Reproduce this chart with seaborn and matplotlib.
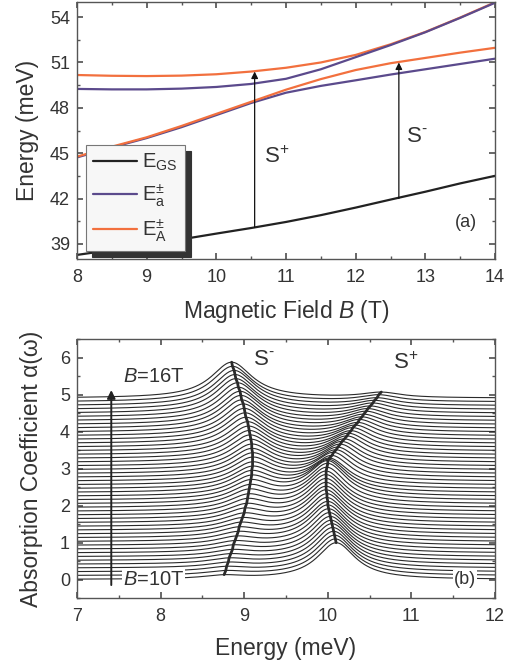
import numpy as np
import pandas as pd
import seaborn as sns
import matplotlib.pyplot as plt
from matplotlib.ticker import MultipleLocator

# ---- panel (a): energy levels vs magnetic field ----
field = [8, 8.5, 9, 9.5, 10, 10.5, 11, 11.5, 12, 12.5, 13, 13.5, 14]
e_gs = [38.27, 38.6, 38.95, 39.3, 39.68, 40.05, 40.45, 40.9, 41.4, 41.93, 42.45, 43.0, 43.5]
e_a_up = [49.25, 49.22, 49.22, 49.27, 49.38, 49.58, 49.92, 50.55, 51.35, 52.15, 53.0, 53.95, 54.95]
e_a_lo = [44.72, 45.38, 46.0, 46.72, 47.52, 48.32, 49.0, 49.45, 49.82, 50.2, 50.55, 50.9, 51.25]
e_A_up = [50.17, 50.12, 50.1, 50.13, 50.22, 50.4, 50.65, 51.0, 51.5, 52.2, 53.02, 53.97, 54.98]
e_A_lo = [44.77, 45.43, 46.05, 46.8, 47.6, 48.4, 49.2, 49.9, 50.5, 50.95, 51.3, 51.65, 51.97]

# transitions drawn as arrows (field, from, to)
arrow_plus = (10.55, 40.1, 50.4)
arrow_minus = (12.62, 42.0, 51.0)

# ---- panel (b): absorption spectra, B = 10 T ... 16 T ----
offset_step = 4.9 / 48
# S- peak centre / height for each curve (bottom to top)
s_minus_pos = [8.76, 8.78, 8.79, 8.81, 8.82, 8.84, 8.86, 8.87, 8.89, 8.91, 8.93, 8.94, 8.96,
               8.98, 9.00, 9.01, 9.03, 9.04, 9.05, 9.06, 9.07, 9.08, 9.09, 9.09, 9.10, 9.10,
               9.10, 9.10, 9.09, 9.09, 9.08, 9.07, 9.06, 9.05, 9.04, 9.02, 9.01, 9.00, 8.99,
               8.97, 8.96, 8.95, 8.93, 8.92, 8.90, 8.89, 8.88, 8.86, 8.85]
s_minus_amp = [.09, .10, .11, .12, .13, .14, .15, .17, .18, .20, .22, .24, .26, .28, .30, .33,
               .35, .38, .40, .43, .45, .48, .50, .53, .55, .57, .60, .62, .64, .66, .69, .71,
               .73, .75, .77, .79, .81, .83, .85, .86, .88, .89, .90, .92, .93, .94, .95, .96, .97]
# S+ peak centre / height for each curve
s_plus_pos = [10.10, 10.09, 10.08, 10.07, 10.06, 10.05, 10.04, 10.03, 10.02, 10.01, 10.00, 10.00,
              9.99, 9.99, 9.98, 9.98, 9.98, 9.98, 9.98, 9.98, 9.99, 10.00, 10.00, 10.01, 10.02,
              10.05, 10.07, 10.10, 10.12, 10.15, 10.17, 10.20, 10.23, 10.25, 10.28, 10.30, 10.33,
              10.36, 10.38, 10.41, 10.43, 10.46, 10.48, 10.51, 10.54, 10.56, 10.59, 10.61, 10.64]
s_plus_amp = [.99, .99, .99, .99, .99, .99, .98, .98, .98, .98, .98, .97, .97, .97, .97, .96,
              .96, .96, .96, .95, .95, .95, .92, .85, .78, .75, .73, .70, .67, .65, .62, .59,
              .57, .54, .51, .49, .46, .43, .41, .38, .35, .33, .30, .27, .25, .22, .19, .17, .14]
hwhm_minus = 0.30
hwhm_plus = 0.28

ink = "#333333"
purple = "#5b4a8c"
orange = "#f2703e"

sns.set_theme(style="ticks")
plt.rcParams["font.family"] = ["Liberation Sans", "DejaVu Sans"]
plt.rcParams["mathtext.fontset"] = "custom"
plt.rcParams["mathtext.rm"] = "Liberation Sans"
plt.rcParams["mathtext.it"] = "Liberation Sans:italic"
plt.rcParams["text.color"] = ink
plt.rcParams["axes.labelcolor"] = ink


def style_axes(ax):
    for sp in ax.spines.values():
        sp.set_color("#555555")
        sp.set_linewidth(1.0)
    ax.tick_params(which="both", direction="in", top=True, right=True,
                   colors="#555555", labelcolor=ink, labelsize=13)
    ax.tick_params(axis="x", which="both", pad=7)
    ax.tick_params(axis="y", which="both", pad=5)
    ax.tick_params(which="major", length=4)
    ax.tick_params(which="minor", length=2.5)


fig = plt.figure(figsize=(5.05, 6.68), dpi=100)
ax1 = fig.add_axes([77 / 505, 1 - 259 / 668, 418 / 505, 257 / 668])
ax2 = fig.add_axes([77 / 505, 1 - 598 / 668, 418 / 505, 259 / 668])

# ---- (a) ----
sns.lineplot(x=field, y=e_gs, ax=ax1, color="#222222", lw=1.6, label=r"E$_{\mathrm{GS}}$")
sns.lineplot(x=field, y=e_a_lo, ax=ax1, color=purple, lw=1.6, label=r"E$_{\mathrm{a}}^{\pm}$")
sns.lineplot(x=field, y=e_A_up, ax=ax1, color=orange, lw=1.6, label=r"E$_{\mathrm{A}}^{\pm}$")
sns.lineplot(x=field, y=e_a_up, ax=ax1, color=purple, lw=1.6)
sns.lineplot(x=field, y=e_A_lo, ax=ax1, color=orange, lw=1.6)

for b, e0, e1 in (arrow_plus, arrow_minus):
    ax1.annotate("", xy=(b, e1), xytext=(b, e0),
                 arrowprops=dict(arrowstyle="-|>", color="#111111", lw=0.9,
                                 mutation_scale=10, shrinkA=0, shrinkB=0))
ax1.text(10.68, 44.7, r"S$^{+}$", fontsize=16, va="center")
ax1.text(12.72, 46.1, r"S$^{\text{-}}$", fontsize=16, va="center")
ax1.text(13.58, 40.4, "(a)", fontsize=13, va="center", ha="center")

ax1.set_xlim(8, 14)
ax1.set_ylim(38, 55)
ax1.xaxis.set_major_locator(MultipleLocator(1))
ax1.xaxis.set_minor_locator(MultipleLocator(0.5))
ax1.yaxis.set_major_locator(MultipleLocator(3))
ax1.yaxis.set_minor_locator(MultipleLocator(1.5))
ax1.set_xlabel(r"Magnetic Field $B$ (T)", fontsize=16.5, labelpad=9)
ax1.set_ylabel("Energy (meV)", fontsize=16.5, labelpad=8)
style_axes(ax1)

leg = ax1.legend(loc="lower left", bbox_to_anchor=(0.0215, 0.031), borderaxespad=0,
                 fontsize=14.5, handlelength=2.2, handletextpad=0.25, labelspacing=0.42,
                 borderpad=0.35, fancybox=False, framealpha=1,
                 shadow={"ox": 4.5, "oy": -4.5, "facecolor": "#333333",
                         "edgecolor": "#333333", "alpha": 1})
leg.get_frame().set_facecolor("#f7f7f7")
leg.get_frame().set_edgecolor("#777777")
leg.get_frame().set_linewidth(0.8)

# ---- (b) ----
energy = np.linspace(7, 12, 601)
frames = []
peak_minus = []
peak_plus = []


def spectrum(e, i):
    lm = s_minus_amp[i] / (1 + ((e - s_minus_pos[i]) / hwhm_minus) ** 2)
    lp = s_plus_amp[i] / (1 + ((e - s_plus_pos[i]) / hwhm_plus) ** 2)
    return i * offset_step + lm + lp


for i in range(len(s_minus_pos)):
    frames.append(pd.DataFrame({"E": energy, "alpha": spectrum(energy, i), "curve": i}))
    peak_minus.append(spectrum(s_minus_pos[i], i))
    peak_plus.append(spectrum(s_plus_pos[i], i))
df = pd.concat(frames, ignore_index=True)

sns.lineplot(data=df, x="E", y="alpha", units="curve", estimator=None, ax=ax2,
             color="#2a2a2a", lw=0.8)
sns.lineplot(x=s_minus_pos, y=peak_minus, sort=False, estimator=None, ax=ax2,
             color="#2a2a2a", lw=2.0)
sns.lineplot(x=s_plus_pos, y=peak_plus, sort=False, estimator=None, ax=ax2,
             color="#2a2a2a", lw=2.0)

ax2.annotate("", xy=(7.41, 5.12), xytext=(7.41, -0.15),
             arrowprops=dict(arrowstyle="-|>", color="#222222", lw=1.4,
                             mutation_scale=12, shrinkA=0, shrinkB=0))
ax2.text(7.55, 5.5, r"$B$=16T", fontsize=14.5, va="center")
ax2.text(7.55, 0.0, r"$B$=10T", fontsize=14.5, va="center",
         bbox=dict(facecolor="white", edgecolor="none", pad=0.5))
ax2.text(9.23, 5.95, r"S$^{\text{-}}$", fontsize=16, va="center", ha="center")
ax2.text(10.93, 5.85, r"S$^{+}$", fontsize=16, va="center", ha="center")
ax2.text(11.64, 0.0, "(b)", fontsize=13, va="center", ha="center",
         bbox=dict(facecolor="white", edgecolor="none", pad=0.5))

ax2.set_xlim(7, 12)
ax2.set_ylim(-0.5, 6.5)
ax2.xaxis.set_major_locator(MultipleLocator(1))
ax2.xaxis.set_minor_locator(MultipleLocator(0.5))
ax2.yaxis.set_major_locator(MultipleLocator(1))
ax2.yaxis.set_minor_locator(MultipleLocator(0.5))
ax2.set_xlabel("Energy (meV)", fontsize=16.5, labelpad=9)
ax2.set_ylabel("Absorption Coefficient α(ω)", fontsize=16.5, labelpad=12)
style_axes(ax2)

fig.savefig("out.png", dpi=100)
